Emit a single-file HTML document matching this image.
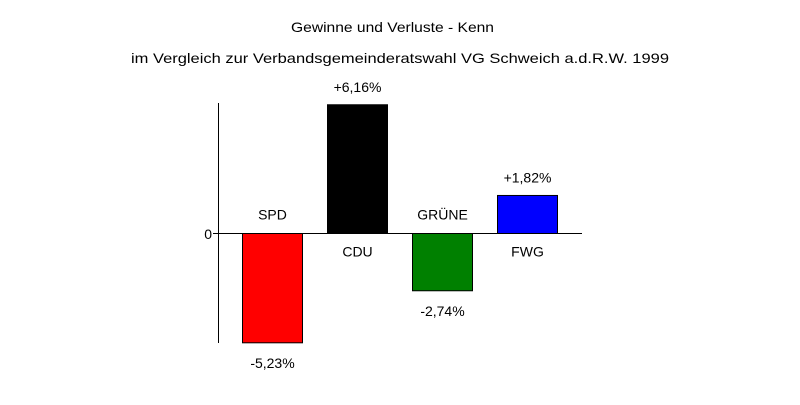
<!DOCTYPE html>
<html><head><meta charset="utf-8"><style>
body{margin:0;background:#fff}
svg text{font-family:"Liberation Sans",Arial,sans-serif;font-size:14px;fill:#000}
</style></head><body>
<svg id="chart" width="800" height="400" xmlns="http://www.w3.org/2000/svg">
<text x="291" y="32" textLength="203" lengthAdjust="spacingAndGlyphs">Gewinne und Verluste - Kenn</text>
<text x="131" y="63" textLength="538" lengthAdjust="spacingAndGlyphs">im Vergleich zur Verbandsgemeinderatswahl VG Schweich a.d.R.W. 1999</text>
<line x1="218.5" y1="103" x2="218.5" y2="343" stroke="#000"/>
<line x1="213" y1="233.5" x2="582" y2="233.5" stroke="#000"/>
<text x="212" y="239" text-anchor="end">0</text>
<g id="bars"></g>
</svg>
<script>
const categories=["SPD","CDU","GRÜNE","FWG"];
const values=[-5.23,6.16,-2.74,1.82];
const valueLabels=["-5,23%","+6,16%","-2,74%","+1,82%"];
const colors=["#ff0000","#000000","#008000","#0000ff"];
const zeroY=233.5, pxPer=20.9;
const y=v=>zeroY-v*pxPer;
const x=i=>242.5+i*85;
const g=document.getElementById('bars');
const NS="http://www.w3.org/2000/svg";
categories.forEach((c,i)=>{
  const v=values[i];
  const r=document.createElementNS(NS,'rect');
  
  
  const top=Math.min(y(v),zeroY), h=Math.abs(y(v)-zeroY);
  r.setAttribute('x',x(i));r.setAttribute('y',top);r.setAttribute('width',60);r.setAttribute('height',h);
  r.setAttribute('fill',colors[i]);r.setAttribute('stroke','#000');
  g.appendChild(r);
  const cx=x(i)+30;
  const n=document.createElementNS(NS,'text');
  
  
  n.setAttribute('x',cx);n.setAttribute('text-anchor','middle');
  n.setAttribute('y',v<0?zeroY-14:zeroY+23);
  n.textContent=c;g.appendChild(n);
  const t=document.createElementNS(NS,'text');
  
  
  t.setAttribute('x',cx);t.setAttribute('text-anchor','middle');
  t.setAttribute('y',v<0?y(v)+25:y(v)-13);
  t.textContent=valueLabels[i];g.appendChild(t);
});
</script>
</body></html>
